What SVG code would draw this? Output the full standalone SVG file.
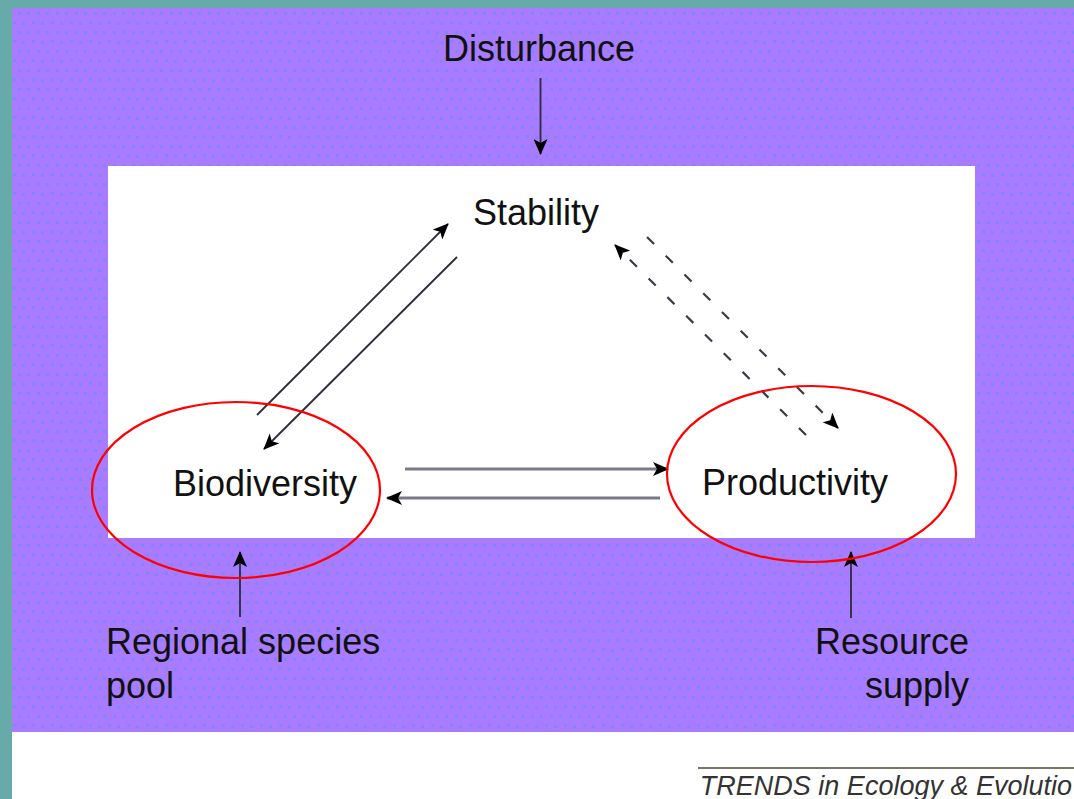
<svg xmlns="http://www.w3.org/2000/svg" width="1074" height="799" viewBox="0 0 1074 799">
  <style>
    .lbl { font-family: "Liberation Sans", Arial, sans-serif; font-size: 36px; fill: #111; }
    .ln { fill: none; stroke: #2b2b3a; stroke-width: 1.8; }
    .hl { fill: none; stroke: #7c7888; stroke-width: 2.8; }
    .dl { fill: none; stroke: #3a3a48; stroke-width: 2.2; stroke-dasharray: 10 16.5; }
    .ring { fill: none; stroke: #ff0000; stroke-width: 2.2; }
    .foot { font-family: "Liberation Sans", Arial, sans-serif; font-size: 27px; font-style: italic; fill: #333; }
  </style>
  <defs>
    <pattern id="dots" x="12" y="8" width="19" height="19" patternUnits="userSpaceOnUse">
      <rect width="19" height="19" fill="#a97bff"/>
      <rect x="6" y="4" width="3" height="3" fill="#8484ff"/>
      <rect x="15" y="4" width="3" height="3" fill="#8484ff"/>
      <rect x="1" y="13" width="3" height="3" fill="#8484ff"/>
      <rect x="10" y="14" width="3" height="3" fill="#8484ff"/>
    </pattern>
    <marker id="ah" viewBox="0 0 16 14" refX="15" refY="7" markerWidth="16" markerHeight="14" markerUnits="userSpaceOnUse" orient="auto">
      <path d="M0,0 L16,7 L0,14 L4,7 z" fill="#000"/>
    </marker>
  </defs>

  <!-- background -->
  <rect x="0" y="0" width="1074" height="799" fill="#66aaaa"/>
  <rect x="12" y="8" width="1062" height="724" fill="url(#dots)"/>
  <rect x="12" y="732" width="1062" height="67" fill="#ffffff"/>
  <rect x="108" y="166" width="867" height="372" fill="#ffffff"/>

  <!-- connectors -->
  <g id="connectors">
    <line class="ln" x1="540.5" y1="78" x2="540.5" y2="154" marker-end="url(#ah)"/>
    <line class="ln" x1="240" y1="617" x2="240" y2="552" marker-end="url(#ah)"/>
    <line class="ln" x1="851" y1="618" x2="851" y2="552" marker-end="url(#ah)"/>
    <line class="ln" x1="257" y1="415" x2="448" y2="224" marker-end="url(#ah)"/>
    <line class="ln" x1="457" y1="257" x2="264" y2="449" marker-end="url(#ah)"/>
    <line class="dl" x1="647" y1="237" x2="838" y2="428" marker-end="url(#ah)"/>
    <line class="dl" x1="806" y1="435" x2="615" y2="245" marker-end="url(#ah)"/>
    <line class="hl" x1="405" y1="469" x2="668" y2="469" marker-end="url(#ah)"/>
    <line class="hl" x1="660" y1="498" x2="387" y2="498" marker-end="url(#ah)"/>
  </g>

  <g id="disturbance">
    <text class="lbl" x="539" y="61" text-anchor="middle">Disturbance</text>
  </g>
  <g id="stability">
    <text class="lbl" x="536" y="225" text-anchor="middle">Stability</text>
  </g>
  <g id="biodiversity">
    <ellipse class="ring" cx="236" cy="490" rx="144" ry="88"/>
    <text class="lbl" x="173" y="496">Biodiversity</text>
  </g>
  <g id="productivity">
    <ellipse class="ring" cx="811.5" cy="474" rx="144.5" ry="88"/>
    <text class="lbl" x="702" y="495">Productivity</text>
  </g>
  <g id="regional">
    <text class="lbl" x="106" y="654">Regional species</text>
    <text class="lbl" x="106" y="698">pool</text>
  </g>
  <g id="resource">
    <text class="lbl" x="969" y="654" text-anchor="end">Resource</text>
    <text class="lbl" x="969" y="698" text-anchor="end">supply</text>
  </g>

  <g id="footer">
    <line x1="698" y1="768" x2="1074" y2="768" stroke="#7a7565" stroke-width="2"/>
    <text class="foot" x="1072" y="795" text-anchor="end">TRENDS in Ecology &amp; Evolutio</text>
  </g>
</svg>
